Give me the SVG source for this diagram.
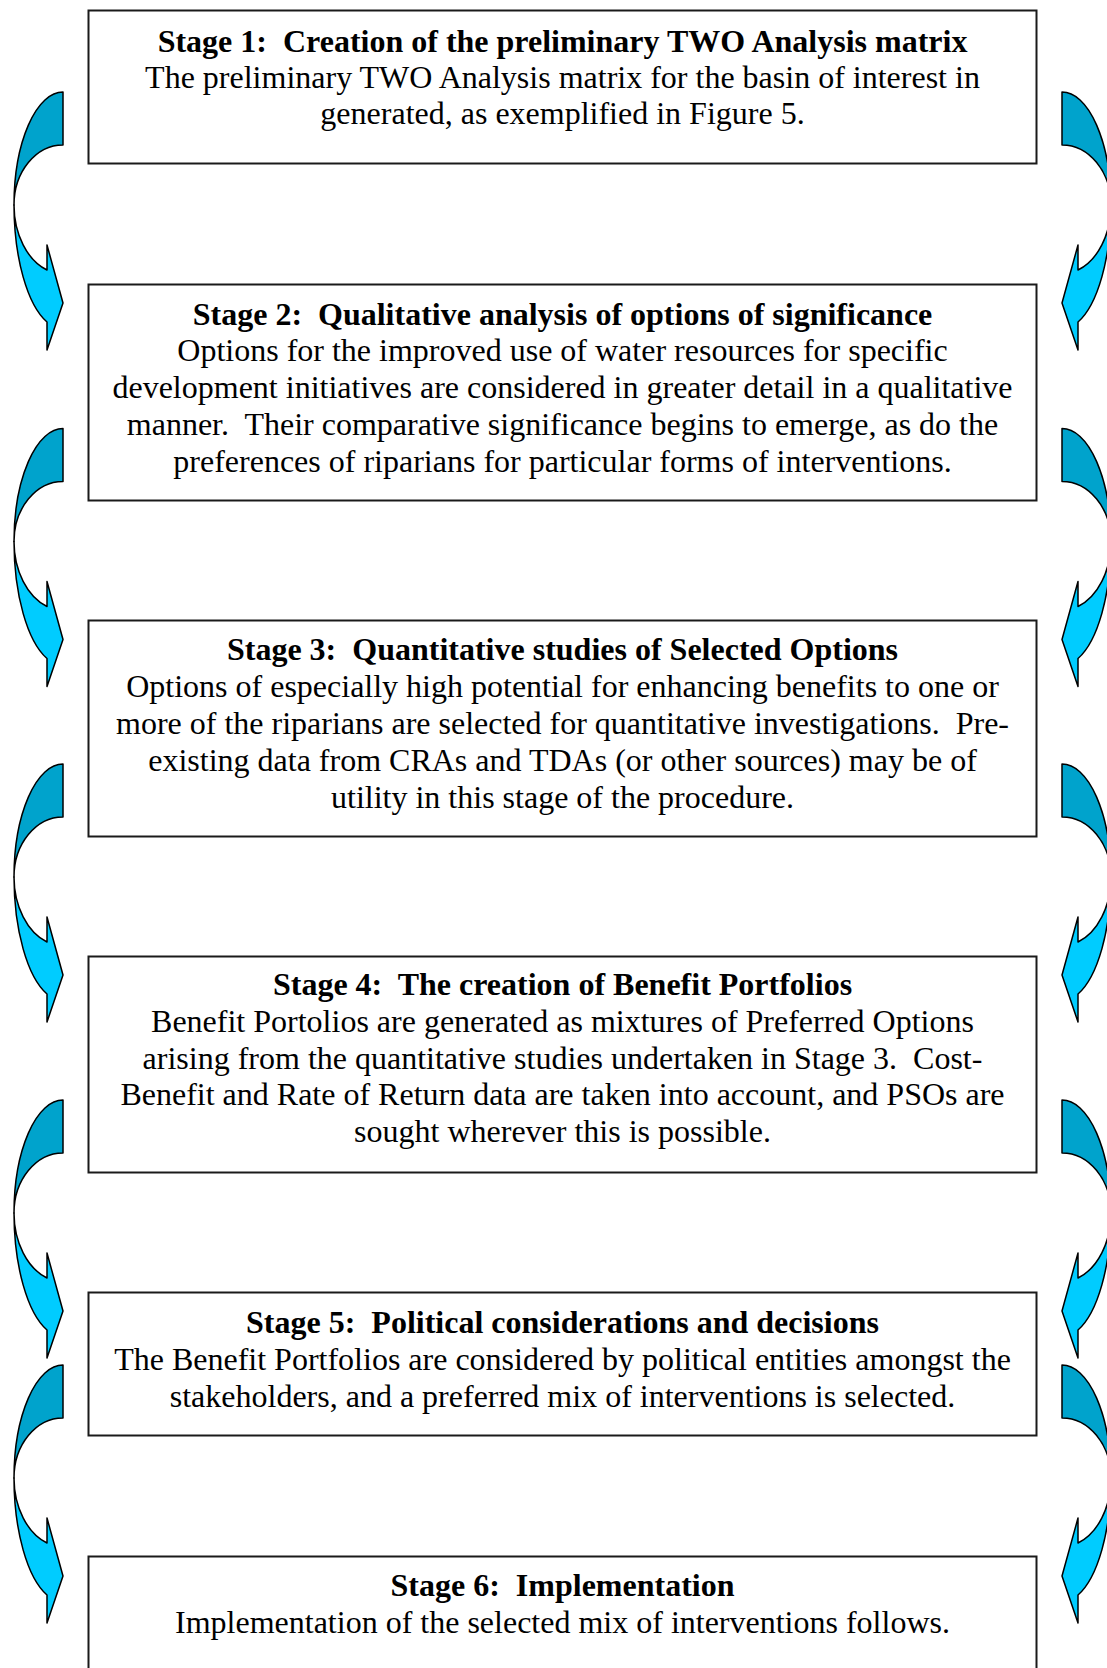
<svg xmlns="http://www.w3.org/2000/svg" xmlns:xlink="http://www.w3.org/1999/xlink" width="1107" height="1668" viewBox="0 0 1107 1668">
<style>
.box{fill:#ffffff;stroke:#1a1a1a;stroke-width:2}
.t{font-family:"Liberation Serif","Times New Roman",serif;font-size:32px;text-anchor:middle;fill:#000000}
.b{font-weight:bold}
.dk{fill:#00A3CC;stroke:#000000;stroke-width:1.5;stroke-linejoin:round}
.lt{fill:#00CCFF;stroke:#000000;stroke-width:1.5;stroke-linejoin:round}
</style>
<defs>
<g id="carrow">
<path class="dk" d="M63,0 A49,113 0 0 0 14,113 A49,60 0 0 1 63,53 Z"/>
<path class="lt" d="M14,113 A49,124 0 0 0 47,230 L47,258 L63,211 L47,153 L47,178 A49,69 0 0 1 14,113 Z"/>
</g>
</defs>
<rect width="1107" height="1668" fill="#ffffff"/>
<g id="connectors">
<use xlink:href="#carrow" transform="translate(0,92)"/>
<use xlink:href="#carrow" transform="translate(0,428.5)"/>
<use xlink:href="#carrow" transform="translate(0,764)"/>
<use xlink:href="#carrow" transform="translate(0,1100)"/>
<use xlink:href="#carrow" transform="translate(0,1365)"/>
<use xlink:href="#carrow" transform="translate(1125,92) scale(-1,1)"/>
<use xlink:href="#carrow" transform="translate(1125,428.5) scale(-1,1)"/>
<use xlink:href="#carrow" transform="translate(1125,764) scale(-1,1)"/>
<use xlink:href="#carrow" transform="translate(1125,1100) scale(-1,1)"/>
<use xlink:href="#carrow" transform="translate(1125,1365) scale(-1,1)"/>
</g>
<g id="stage1">
<rect class="box" x="88.5" y="10.5" width="948" height="153"/>
<text class="t b" x="562.5" y="51.5" xml:space="preserve">Stage 1:  Creation of the preliminary TWO Analysis matrix</text>
<text class="t" x="562.5" y="87.5">The preliminary TWO Analysis matrix for the basin of interest in</text>
<text class="t" x="562.5" y="124">generated, as exemplified in Figure 5.</text>
</g>
<g id="stage2">
<rect class="box" x="88.5" y="284.5" width="948" height="216"/>
<text class="t b" x="562.5" y="325" xml:space="preserve">Stage 2:  Qualitative analysis of options of significance</text>
<text class="t" x="562.5" y="361">Options for the improved use of water resources for specific</text>
<text class="t" x="562.5" y="398">development initiatives are considered in greater detail in a qualitative</text>
<text class="t" x="562.5" y="435" xml:space="preserve">manner.  Their comparative significance begins to emerge, as do the</text>
<text class="t" x="562.5" y="471.5">preferences of riparians for particular forms of interventions.</text>
</g>
<g id="stage3">
<rect class="box" x="88.5" y="620.5" width="948" height="216"/>
<text class="t b" x="562.5" y="660" xml:space="preserve">Stage 3:  Quantitative studies of Selected Options</text>
<text class="t" x="562.5" y="697">Options of especially high potential for enhancing benefits to one or</text>
<text class="t" x="562.5" y="734" xml:space="preserve">more of the riparians are selected for quantitative investigations.  Pre-</text>
<text class="t" x="562.5" y="771">existing data from CRAs and TDAs (or other sources) may be of</text>
<text class="t" x="562.5" y="807.5">utility in this stage of the procedure.</text>
</g>
<g id="stage4">
<rect class="box" x="88.5" y="956.5" width="948" height="216"/>
<text class="t b" x="562.5" y="995" xml:space="preserve">Stage 4:  The creation of Benefit Portfolios</text>
<text class="t" x="562.5" y="1031.5">Benefit Portolios are generated as mixtures of Preferred Options</text>
<text class="t" x="562.5" y="1068.5" xml:space="preserve">arising from the quantitative studies undertaken in Stage 3.  Cost-</text>
<text class="t" x="562.5" y="1105">Benefit and Rate of Return data are taken into account, and PSOs are</text>
<text class="t" x="562.5" y="1141.5">sought wherever this is possible.</text>
</g>
<g id="stage5">
<rect class="box" x="88.5" y="1292.5" width="948" height="143"/>
<text class="t b" x="562.5" y="1333" xml:space="preserve">Stage 5:  Political considerations and decisions</text>
<text class="t" x="562.5" y="1369.5">The Benefit Portfolios are considered by political entities amongst the</text>
<text class="t" x="562.5" y="1406.5">stakeholders, and a preferred mix of interventions is selected.</text>
</g>
<g id="stage6">
<rect class="box" x="88.5" y="1556.5" width="948" height="140"/>
<text class="t b" x="562.5" y="1596" xml:space="preserve">Stage 6:  Implementation</text>
<text class="t" x="562.5" y="1633">Implementation of the selected mix of interventions follows.</text>
</g>
</svg>
